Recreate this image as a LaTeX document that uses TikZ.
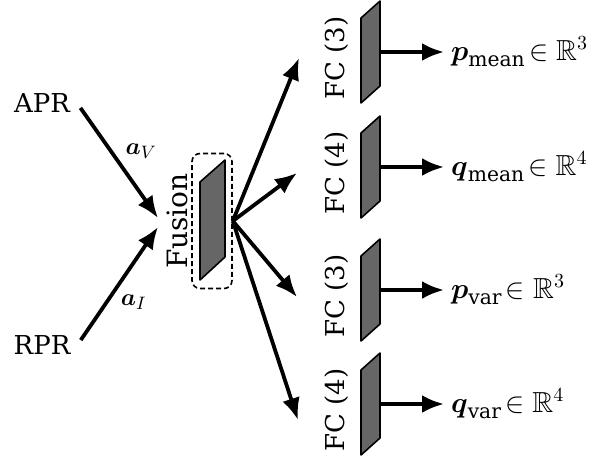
\documentclass[tikz,border=0pt]{standalone}
\usepackage{amsmath}
\usepackage{amssymb}
\usepackage{fontspec}
\setmainfont{DejaVu Serif}
\usetikzlibrary{positioning, arrows.meta}

\begin{document}
\begin{tikzpicture}[x=0.5pt,y=-0.5pt,font=\fontsize{13}{15}\selectfont,
    arr/.style={-{Latex[length=11pt,width=9pt]},line width=1.9pt},
    panel/.style={draw=black,line width=0.8pt,fill=black!60,line join=round},
    outlbl/.style={anchor=west,font=\fontsize{14.5}{17}\selectfont},
    fusebox/.style={draw,line width=0.8pt,dash pattern=on 2.5pt off 1.5pt,rounded corners=4pt,minimum width=20pt,minimum height=67.5pt}]
        \useasboundingbox (0,0) rectangle (598,456);

        % inputs
        \node (apr) at (42,103) {APR};
        \node (rpr) at (42,345) {RPR};
        \coordinate (inV) at (158,218);
        \coordinate (inI) at (158,227);

        % fusion layer
        \node[fusebox] (fusion) at (212,221) {};
        \node[rotate=90,font=\fontsize{14}{16}\selectfont] (fuslbl) at (177,221) {Fusion};
        \draw[panel] (200,182) -- (200,280) -- (225,257) -- (225,160) -- cycle;

        \path[arr,shorten <=3pt]
            (apr.east) edge node[pos=0.42,right=3pt]{$\boldsymbol{a}_V$} (inV)
            (rpr.east) edge node[pos=0.36,right=3pt]{$\boldsymbol{a}_I$} (inI)
        ;

        % fully connected heads
        \foreach \cy/\d [count=\k] in {52/3,167/4,290/3,404/4}{
            \draw[panel] (361,{\cy-34}) -- (361,{\cy+51}) -- (380,{\cy+34}) -- (380,{\cy-51}) -- cycle;
            \node[rotate=90] (fclbl\k) at (337,{\cy+6}) {FC (\d)};
            \coordinate (fc\k) at (380,\cy);
        }
        \coordinate (fan1) at (299,58);
        \coordinate (fan2) at (297,173);
        \coordinate (fan3) at (297,297);
        \coordinate (fan4) at (298,420);
        \foreach \k in {1,...,4}
            \draw[arr] (fusion.east) -- (fan\k);

        % outputs
        \node[outlbl] (pmean) at (444,52)  {$\boldsymbol{p}_{\mathrm{mean}}\!\in\mathbb{R}^3$};
        \node[outlbl] (qmean) at (444,167) {$\boldsymbol{q}_{\mathrm{mean}}\!\in\mathbb{R}^4$};
        \node[outlbl] (pvar)  at (444,290) {$\boldsymbol{p}_{\mathrm{var}}\!\in\mathbb{R}^3$};
        \node[outlbl] (qvar)  at (444,404) {$\boldsymbol{q}_{\mathrm{var}}\!\in\mathbb{R}^4$};
        \foreach \k/\o in {1/pmean,2/qmean,3/pvar,4/qvar}
            \draw[arr] (fc\k) -- (\o.west);
    \end{tikzpicture}
\end{document}
